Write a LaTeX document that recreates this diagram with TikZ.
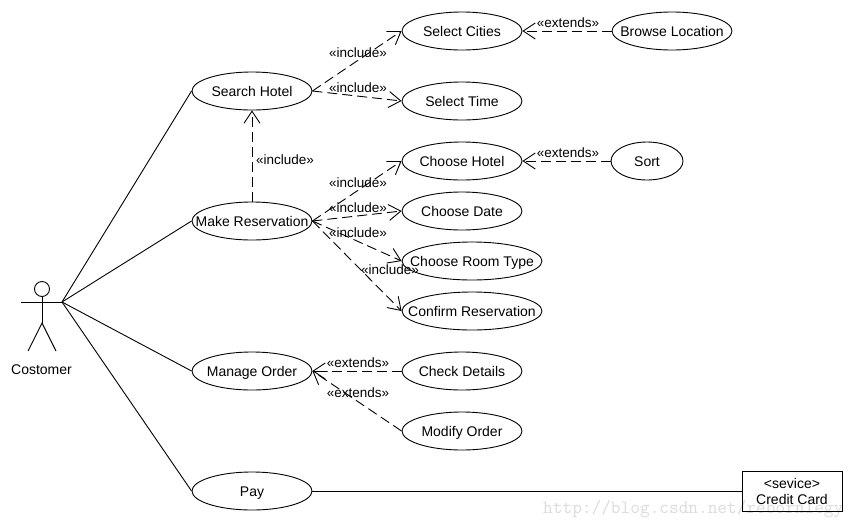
\documentclass[tikz,border=0pt]{standalone}
\usepackage{fontspec}
\setmainfont{Liberation Sans}
\usetikzlibrary{shapes.geometric,arrows.meta}
\newcommand{\uctext}[1]{\makebox[0pt][c]{\rule[-3pt]{0pt}{16.6pt}#1}}
\tikzset{
  uc/.style={draw,ellipse,line width=0.9pt,fill=white,inner sep=0pt,minimum width=120pt,minimum height=38pt,font=\fontsize{14}{15}\selectfont},
  ucw/.style={uc,minimum width=140pt},
  ucs/.style={uc,minimum width=72pt},
  dep/.style={line width=0.9pt,dash pattern=on 10pt off 5pt,-{Straight Barb[length=12pt,width=16pt,line width=0.9pt]}},
  assoc/.style={line width=0.9pt},
  stereo/.style={inner sep=0pt,font=\fontsize{13.5}{15}\selectfont},
  limb/.style={line width=0.9pt}
}
\begin{document}
\begin{tikzpicture}[x=1pt,y=-1pt]
\useasboundingbox (0,0) rectangle (854,528);
\node[anchor=west,inner sep=0pt,text=black!14,font=\ttfamily\fontsize{18.8}{20}\selectfont] (wm) at (543,509) {http://blog.csdn.net/rebornlegy};
% actor
\node[draw,circle,line width=0.9pt,inner sep=0pt,minimum size=15pt] (head) at (42,289) {};
\coordinate (hip) at (42,323);
\coordinate (handl) at (21,302);
\coordinate (hand) at (62,302);
\coordinate (footl) at (28,351);
\coordinate (footr) at (56,351);
\draw[limb] (head.south) -- (hip);
\draw[limb] (handl) -- (hand);
\draw[limb] (footl) -- (hip) -- (footr);
\node[inner sep=0pt,font=\fontsize{14}{15}\selectfont] (cust) at (41.5,369.5) {Costomer};
% use cases
\node[uc] (sh) at (252,91) {\uctext{Search Hotel}};
\node[uc] (mr) at (252,221) {\uctext{Make Reservation}};
\node[uc] (mo) at (252,371) {\uctext{Manage Order}};
\node[uc] (pay) at (252,491) {\uctext{Pay}};
\node[uc] (sc) at (462,31) {\uctext{Select Cities}};
\node[uc] (st) at (462,101) {\uctext{Select Time}};
\node[uc] (ch) at (462,161) {\uctext{Choose Hotel}};
\node[uc] (cd) at (462,211) {\uctext{Choose Date}};
\node[ucw] (crt) at (472,261) {\uctext{Choose Room Type}};
\node[ucw] (cr) at (472,311) {\uctext{Confirm Reservation}};
\node[uc] (cdt) at (462,371) {\uctext{Check Details}};
\node[uc] (mod) at (462,431) {\uctext{Modify Order}};
\node[uc] (bl) at (672,31) {\uctext{Browse Location}};
\node[ucs] (so) at (647,161) {\uctext{Sort}};
\node[draw,line width=0.9pt,inner sep=0pt,minimum width=100pt,minimum height=40pt,align=center,font=\fontsize{14}{16}\selectfont] (cc) at (792,491) {<sevice>\\Credit Card};
% associations
\draw[assoc] (hand) -- (sh.west);
\draw[assoc] (hand) -- (mr.west);
\draw[assoc] (hand) -- (mo.west);
\draw[assoc] (hand) -- (pay.west);
\draw[assoc] (pay.east) -- (cc.west);
% dependencies
\draw[dep] (sh.east) -- (sc.west);
\draw[dep] (sh.east) -- (st.west);
\draw[dep] (mr.north) -- (sh.south);
\draw[dep] (mr.east) -- (ch.west);
\draw[dep] (mr.east) -- (cd.west);
\draw[dep] (mr.east) -- (crt.west);
\draw[dep] (mr.east) -- (cr.west);
\draw[dep] (bl.west) -- (sc.east);
\draw[dep] (so.west) -- (ch.east);
\draw[dep] (cdt.west) -- (mo.east);
\draw[dep] (mod.west) -- (mo.east);
% labels
\node[stereo] (l1) at (358,52.5) {«include»};
\node[stereo] (l2) at (358,87.5) {«include»};
\node[stereo] (l3) at (285,159.5) {«include»};
\node[stereo] (l4) at (358,182.5) {«include»};
\node[stereo] (l5) at (358,207.5) {«include»};
\node[stereo] (l6) at (358,232.5) {«include»};
\node[stereo] (l7) at (390,269.5) {«include»};
\node[stereo] (l8) at (568,22.5) {«extends»};
\node[stereo] (l9) at (568,152.5) {«extends»};
\node[stereo] (l10) at (358,362.5) {«extends»};
\node[stereo] (l11) at (358,392.5) {«extends»};
\end{tikzpicture}
\end{document}
